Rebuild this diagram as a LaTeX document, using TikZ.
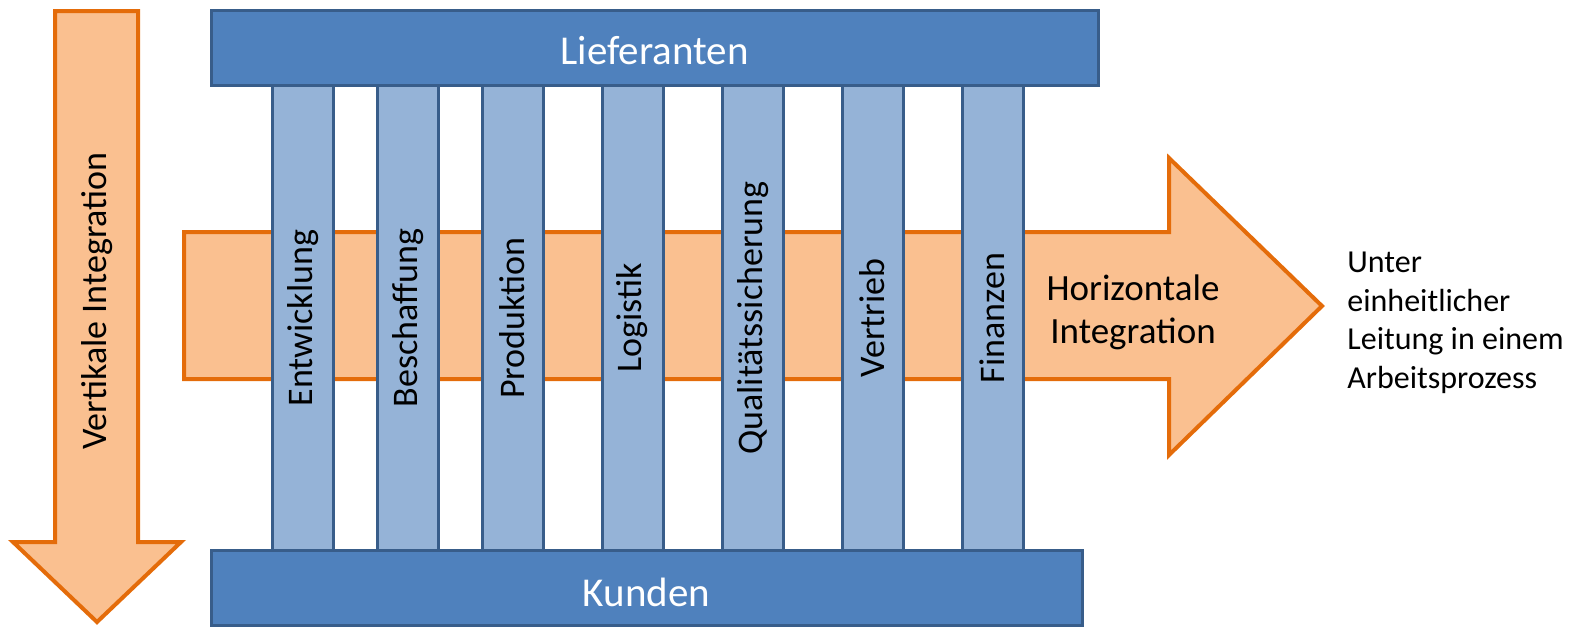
\documentclass[tikz,border=0pt]{standalone}
\usepackage{fontspec}
\setmainfont{Carlito}
\definecolor{orangeline}{HTML}{E46C0A}
\definecolor{orangefill}{HTML}{FAC090}
\definecolor{boxblue}{HTML}{4F81BD}
\definecolor{boxline}{HTML}{385D8A}
\definecolor{colblue}{HTML}{95B3D7}
\begin{document}
\begin{tikzpicture}[x=0.5pt,y=-0.5pt,
  arrowshape/.style={draw=orangeline, fill=orangefill, line width=2pt, line join=miter},
  bar/.style={draw=boxline, fill=boxblue, line width=1.5pt, inner sep=0pt, minimum height=37.5pt},
  bartext/.style={text=white, inner sep=0pt, font=\fontsize{20.5}{24}\selectfont},
  column/.style={draw=boxline, fill=colblue, line width=1.5pt, inner sep=0pt, minimum width=30.5pt, minimum height=238pt},
  collabel/.style={rotate=90, inner sep=0pt, font=\fontsize{18}{21}\selectfont},
  plain/.style={inner sep=0pt, font=\fontsize{18.5}{21.5}\selectfont},
  side/.style={inner sep=0pt, align=left, font=\fontsize{16}{19.25}\selectfont},
]
\useasboundingbox (0,0) rectangle (1576,629);
% vertical arrow
\draw[arrowshape] (55,11) -- (138,11) -- (138,542) -- (181,542) -- (97,622) -- (13,542) -- (55,542) -- cycle;
% horizontal arrow
\draw[arrowshape] (184,232) -- (1169,232) -- (1169,158) -- (1322,306) -- (1169,455) -- (1169,379) -- (184,379) -- cycle;
% columns
\foreach \n/\cx in {c1/303, c2/408, c3/512.5, c4/632.5, c5/753, c6/872.5, c7/992.5}
  \node[column] (\n) at (\cx,318) {};
% bars
\node[bar, minimum width=443.5pt] (lief) at (654.5,48) {};
\node[bar, minimum width=435.5pt] (kund) at (646.5,587.5) {};
\node[bartext] (lieft) at (654.5,50.5) {Lieferanten};
\node[bartext] (kundt) at (646.5,592) {Kunden};
% column labels
\node[collabel] (l1) at (303,318) {Entwicklung};
\node[collabel] (l2) at (408,318) {Beschaffung};
\node[collabel] (l3) at (512.5,318) {Produktion};
\node[collabel] (l4) at (632.5,318) {Logistik};
\node[collabel] (l5) at (753,318) {Qualitätssicherung};
\node[collabel] (l6) at (872.5,318) {Vertrieb};
\node[collabel] (l7) at (992.5,318) {Finanzen};
% arrow labels
\node[collabel] (vi) at (97,301) {Vertikale Integration};
\node[plain, align=center] (hi) at (1133,312) {Horizontale\\Integration};
\node[side, anchor=north west] (note) at (1347,252) {Unter\\einheitlicher\\Leitung in einem\\Arbeitsprozess};
\end{tikzpicture}
\end{document}
